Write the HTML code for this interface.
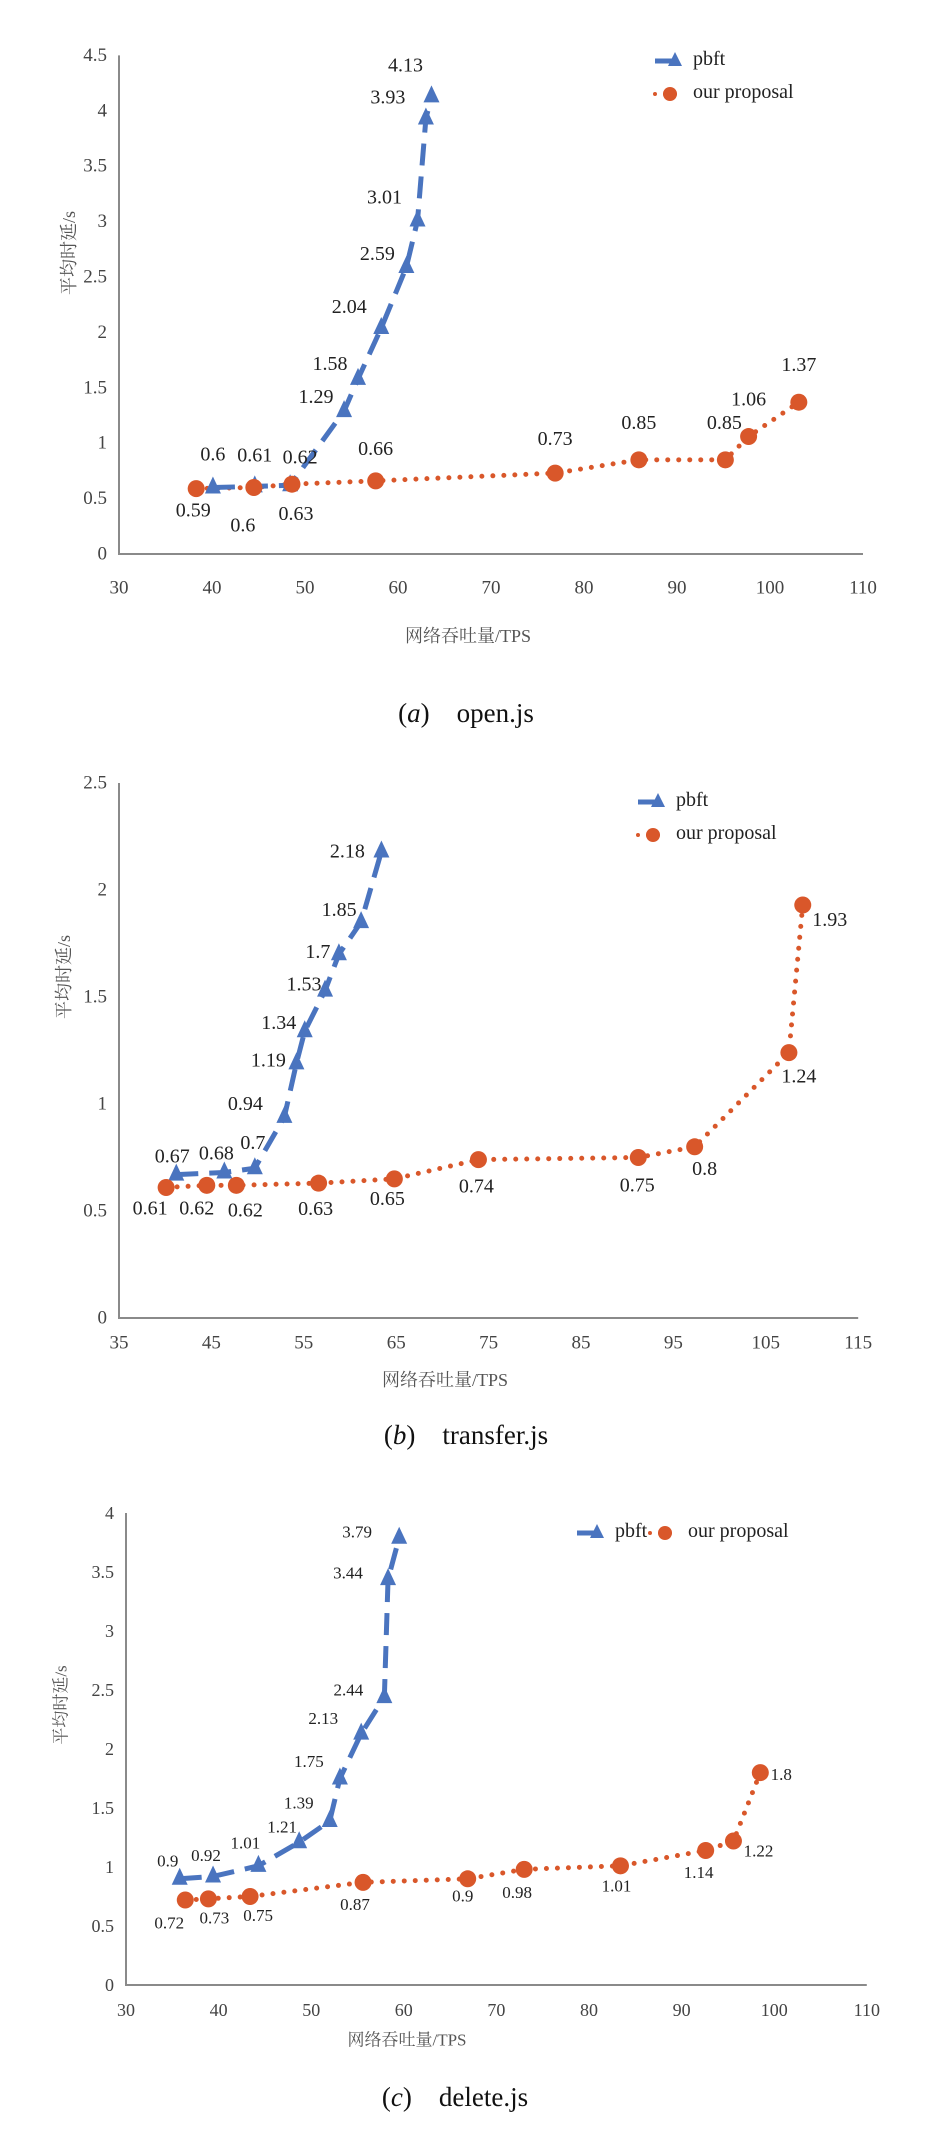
<!DOCTYPE html>
<html><head><meta charset="utf-8"><style>
html,body{margin:0;padding:0;background:#fff;}
svg{display:block;font-family:"Liberation Serif","Noto Serif CJK SC",serif;}
</style></head><body>
<svg id="fig" width="936" height="2130" viewBox="0 0 936 2130" xmlns="http://www.w3.org/2000/svg"></svg>
<script>
// ---- chart (a) open.js ----
const aXTicks=[30,40,50,60,70,80,90,100,110];
const aYTicks=[0,0.5,1,1.5,2,2.5,3,3.5,4,4.5];
const aYTickLabels=["0","0.5","1","1.5","2","2.5","3","3.5","4","4.5"];
const aPbftX=[40.1,44.6,48.4,54.2,55.7,58.2,60.9,62.1,63.0,63.6];
const aPbftY=[0.6,0.61,0.62,1.29,1.58,2.04,2.59,3.01,3.93,4.13];
const aOursX=[38.3,44.5,48.6,57.6,76.9,85.9,95.2,97.7,103.1];
const aOursY=[0.59,0.6,0.63,0.66,0.73,0.85,0.85,1.06,1.37];
// ---- chart (b) transfer.js ----
const bXTicks=[35,45,55,65,75,85,95,105,115];
const bYTicks=[0,0.5,1,1.5,2,2.5];
const bYTickLabels=["0","0.5","1","1.5","2","2.5"];
const bPbftX=[41.2,46.4,49.7,52.9,54.2,55.1,57.3,58.8,61.2,63.4];
const bPbftY=[0.67,0.68,0.7,0.94,1.19,1.34,1.53,1.7,1.85,2.18];
const bOursX=[40.1,44.5,47.7,56.6,64.8,73.9,91.2,97.3,107.5,109.0];
const bOursY=[0.61,0.62,0.62,0.63,0.65,0.74,0.75,0.8,1.24,1.93];
// ---- chart (c) delete.js ----
const cXTicks=[30,40,50,60,70,80,90,100,110];
const cYTicks=[0,0.5,1,1.5,2,2.5,3,3.5,4];
const cYTickLabels=["0","0.5","1","1.5","2","2.5","3","3.5","4"];
const cPbftX=[35.8,39.4,44.3,48.7,52.0,53.1,55.4,57.9,58.3,59.5];
const cPbftY=[0.9,0.92,1.01,1.21,1.39,1.75,2.13,2.44,3.44,3.79];
const cOursX=[36.4,38.9,43.4,55.6,66.9,73.0,83.4,92.6,95.6,98.5];
const cOursY=[0.72,0.73,0.75,0.87,0.9,0.98,1.01,1.14,1.22,1.8];

// label nudges (layout only, pixels)
const aPbftNudge=[[0,-33],[0,-31],[10,-28],[-28,-14],[-28,-15],[-32,-21],[-29,-13],[-33,-23],[-38,-21],[-26,-31]];
const aOursNudge=[[-3,22],[-11,38],[4,30],[0,-32],[0,-34],[0,-37],[-1,-37],[0,-37],[0,-37]];
const bPbftNudge=[[-4,-18],[-8,-19],[-2,-25],[-39,-13],[-28,-3],[-26,-8],[-21,-6],[-21,-2],[-22,-12],[-34,0]];
const bOursNudge=[[-16,21],[-10,23],[9,25],[-3,26],[-7,20],[-2,27],[-1,28],[10,22],[10,24],[27,15]];
const cPbftNudge=[[-12,-18],[-7,-21],[-13,-23],[-17,-15],[-31,-18],[-31,-17],[-38,-15],[-36,-7],[-40,-6],[-42,-6]];
const cOursNudge=[[-16,23],[6,19],[8,19],[-8,22],[-5,17],[-7,23],[-4,20],[-7,22],[25,10],[21,2]];

const NS="http://www.w3.org/2000/svg";
const svg=document.getElementById('fig');
const BLUE="#4a74bf", ORANGE="#d9572a";
function mk(tag,attrs,parent){const e=document.createElementNS(NS,tag);for(const k in attrs)e.setAttribute(k,attrs[k]);(parent||svg).appendChild(e);return e;}
function txt(s,x,y,size,anchor,parent,fill){const t=mk('text',{x:x,y:y,'font-size':size,'text-anchor':anchor||'middle','dominant-baseline':'central',fill:fill||'#222'},parent);t.textContent=s;return t;}

function chart(L){
  const g=mk('g',{});
  
  
  const sx=v=>L.x0+(v-L.xTicks[0])*L.pxX;
  const sy=v=>L.y0-v*L.pxY;
  const xEnd=sx(L.xTicks[L.xTicks.length-1]);
  const ax=mk('path',{d:`M${L.x0},${sy(L.yTicks[L.yTicks.length-1])} L${L.x0},${L.y0} L${xEnd},${L.y0}`,stroke:'#8a8a8a','stroke-width':2,fill:'none'},g);
  
  
  L.yTicks.forEach((v,i)=>{const t=txt(L.yLabels[i],L.x0-12,sy(v),L.tickSize,'end',g,'#444');
    
    });
  L.xTicks.forEach(v=>{const t=txt(String(v),sx(v),L.xTickY,L.tickSize,'middle',g,'#444');
    
    });
  const xt=txt('网络吞吐量/TPS',L.xTitle[0],L.xTitle[1],L.tickSize-1,'middle',g,'#555');
  
  
  const yt=txt('平均时延/s',0,0,L.tickSize-1,'middle',g,'#555');
  yt.setAttribute('transform',`translate(${L.yTitle[0]},${L.yTitle[1]}) rotate(-90)`);
  
  
  // ours series
  const op=L.oursX.map((v,i)=>[sx(v),sy(L.oursY[i])]);
  const ol=mk('path',{d:'M'+op.map(p=>p.join(',')).join(' L'),stroke:ORANGE,'stroke-width':5,fill:'none','stroke-linecap':'round','stroke-dasharray':'0 11'},g);
  
  
  // pbft series
  const pp=L.pbftX.map((v,i)=>[sx(v),sy(L.pbftY[i])]);
  const pl=mk('path',{d:'M'+pp.map(p=>p.join(',')).join(' L'),stroke:BLUE,'stroke-width':5,fill:'none','stroke-dasharray':'22 11'},g);
  
  
  pp.forEach((p,i)=>{const m=mk('path',{d:`M${p[0]},${p[1]-11} L${p[0]+8},${p[1]+6} L${p[0]-8},${p[1]+6} Z`,fill:BLUE},g);
    
    
    const t=txt(String(L.pbftY[i]),p[0]+L.pbftNudge[i][0],p[1]+L.pbftNudge[i][1],L.labelSize,'middle',g,'#222');
    
    });
  op.forEach((p,i)=>{const m=mk('circle',{cx:p[0],cy:p[1],r:8.5,fill:ORANGE},g);
    
    
    const t=txt(String(L.oursY[i]),p[0]+L.oursNudge[i][0],p[1]+L.oursNudge[i][1],L.labelSize,'middle',g,'#222');
    
    });
  // legend
  const lg=mk('g',{},g);
  
  
  const [px,py]=L.legP,[ox,oy]=L.legO;
  mk('line',{x1:px,y1:py,x2:px+18,y2:py,stroke:BLUE,'stroke-width':5},lg);
  mk('path',{d:`M${px+20},${py-9} L${px+27},${py+5} L${px+13},${py+5} Z`,fill:BLUE},lg);
  txt('pbft',px+38,py-2,L.legSize,'start',lg,'#222');
  mk('line',{x1:ox,y1:oy,x2:ox+30,y2:oy,stroke:ORANGE,'stroke-width':4,'stroke-linecap':'round','stroke-dasharray':'0 10'},lg);
  mk('circle',{cx:ox+15,cy:oy,r:7,fill:ORANGE},lg);
  txt('our proposal',ox+38,oy-2,L.legSize,'start',lg,'#222');
  // caption
  const cap=mk('text',{x:L.cap[0],y:L.cap[1],'font-size':27,'text-anchor':'middle','dominant-baseline':'central',fill:'#111'},svg);
  
  
  cap.innerHTML='(<tspan font-style="italic">'+L.letter+'</tspan>)\u00a0\u00a0\u00a0\u00a0'+L.capText;
}

chart({name:'chart-open-js',xTicks:aXTicks,yTicks:aYTicks,yLabels:aYTickLabels,pbftX:aPbftX,pbftY:aPbftY,oursX:aOursX,oursY:aOursY,
  pbftNudge:aPbftNudge,oursNudge:aOursNudge,x0:119,pxX:9.3,y0:554,pxY:110.8,xTickY:588,tickSize:19,labelSize:20,legSize:20,
  xTitle:[468,636],yTitle:[69,253],legP:[655,61],legO:[655,94],cap:[466,713],letter:'a',capText:'open.js'});
chart({name:'chart-transfer-js',xTicks:bXTicks,yTicks:bYTicks,yLabels:bYTickLabels,pbftX:bPbftX,pbftY:bPbftY,oursX:bOursX,oursY:bOursY,
  pbftNudge:bPbftNudge,oursNudge:bOursNudge,x0:119,pxX:9.24,y0:1318,pxY:214,xTickY:1343,tickSize:19,labelSize:20,legSize:20,
  xTitle:[445,1380],yTitle:[64,977],legP:[638,802],legO:[638,835],cap:[466,1435],letter:'b',capText:'transfer.js'});
chart({name:'chart-delete-js',xTicks:cXTicks,yTicks:cYTicks,yLabels:cYTickLabels,pbftX:cPbftX,pbftY:cPbftY,oursX:cOursX,oursY:cOursY,
  pbftNudge:cPbftNudge,oursNudge:cOursNudge,x0:126,pxX:9.26,y0:1985,pxY:118,xTickY:2010,tickSize:18,labelSize:17,legSize:20,
  xTitle:[407,2040],yTitle:[61,1705],legP:[577,1533],legO:[650,1533],cap:[455,2097],letter:'c',capText:'delete.js'});
</script>
</body></html>
